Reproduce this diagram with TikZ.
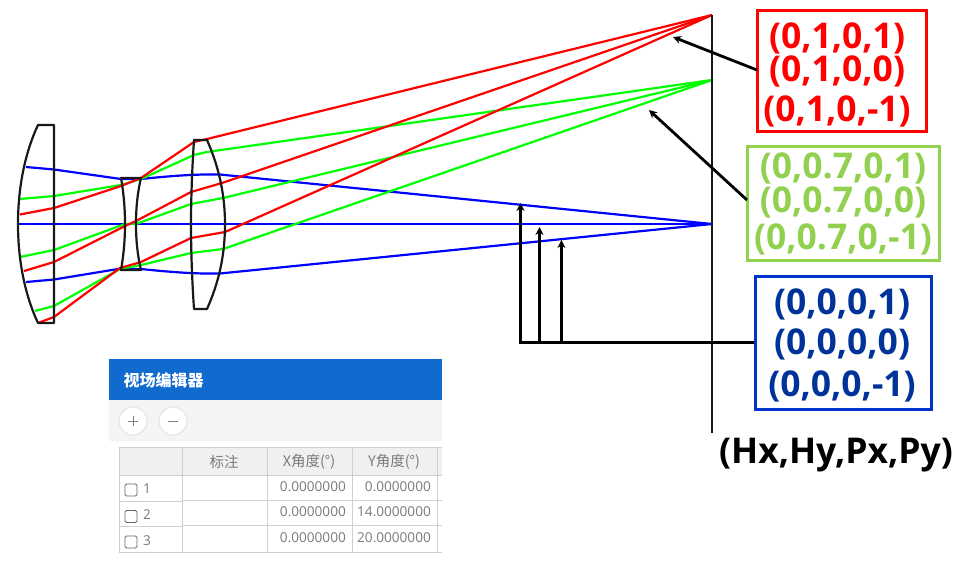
\documentclass[tikz,border=0pt]{standalone}
\usepackage{fontspec}
\setmainfont{Open Sans}
\newfontfamily\cjk{Noto Sans CJK SC}
\usetikzlibrary{arrows.meta}
\definecolor{rayr}{HTML}{FF0000}
\definecolor{rayg}{HTML}{00FF00}
\definecolor{rayb}{HTML}{0000FF}
\definecolor{boxg}{HTML}{92D050}
\definecolor{boxb}{HTML}{0033CC}
\definecolor{txtb}{HTML}{003399}
\definecolor{headblue}{HTML}{116BCE}
\definecolor{barg}{HTML}{F4F4F4}
\definecolor{cellg}{HTML}{F0F0F0}
\definecolor{gridg}{HTML}{CFCFCF}
\definecolor{txtg}{HTML}{7A7A7A}
\tikzset{
  ray/.style={line width=2.2pt,line join=round},
  lens/.style={draw=black!90,line width=2.2pt,line join=round},
  callout/.style={line width=2.8pt,draw=black,-{Stealth[length=8pt,width=8pt]}},
  labelbox/.style={draw,line width=3pt,fill=white,inner sep=0pt},
  lbl/.style={font=\fontsize{35.5}{36}\selectfont\bfseries,inner sep=0pt},
  cell/.style={font=\fontsize{13.6}{14}\selectfont,text=txtg,inner sep=0pt},
  cellcn/.style={font=\cjk\fontsize{14.5}{15}\selectfont,text=txtg,inner sep=0pt},
  grid/.style={draw=gridg,line width=0.9pt},
  roundbtn/.style={circle,draw=black!12,fill=white,line width=0.8pt,minimum size=28pt,inner sep=0pt,text=black!55},
  chk/.style={draw=black!60,rounded corners=1.5pt,line width=0.8pt,fill=white,minimum size=12pt,inner sep=0pt}
}
\begin{document}
\begin{tikzpicture}[x=1pt,y=-1pt]
\useasboundingbox (0,0) rectangle (960,560);
% focus points
\coordinate (fr) at (712,15);
\coordinate (fg) at (712,80);
\coordinate (fb) at (712,224);
% blue rays
\draw[ray,rayb] (26,167) -- (54,169.5) -- (121,179) -- (141,179) .. controls (170,176) and (195,174) .. (220,174.5) -- (fb);
\draw[ray,rayb,line width=2.8pt] (18,224) -- (fb);
\draw[ray,rayb] (26,282) -- (54,279.5) -- (121,268.5) -- (141,269) .. controls (170,272) and (195,274) .. (220,273.5) -- (fb);
% green rays
\draw[ray,rayg] (20,199) -- (54,196) -- (121,185) -- (141,179) -- (194,155) -- (207,152) -- (fg);
\draw[ray,rayg] (20,257) -- (54,250) -- (125,224) -- (136,224) -- (191,204) -- (223,198) -- (fg);
\draw[ray,rayg] (35,311) -- (54,306) -- (120,269) -- (141,265) -- (191,253) -- (223,249) -- (fg);
% red rays
\draw[ray,rayr] (20,214.5) -- (54,208) -- (121,186) -- (141,178) -- (194,142) -- (207,139) -- (fr);
\draw[ray,rayr] (24,271) -- (54,262) -- (125,226) -- (136,221) -- (191,192) -- (222,183) -- (fr);
\draw[ray,rayr] (38,323) -- (54,317) -- (120,268) -- (141,262) -- (191,238) -- (225,232) -- (fr);
% lenses
\draw[lens] (38,125) .. controls (24,155) and (18,190) .. (18,224) .. controls (18,258) and (24,293) .. (38,323) -- (54,323) -- (54,125) -- cycle;
\draw[lens] (121,178) .. controls (124,195) and (125,210) .. (125,224) .. controls (125,238) and (124,253) .. (121,270) -- (141,270) .. controls (137,253) and (136,238) .. (136,224) .. controls (136,210) and (137,195) .. (141,178) -- cycle;
\draw[lens] (194,140) .. controls (192,170) and (191,200) .. (191,224) .. controls (191,250) and (192,280) .. (194,309) -- (207,309) .. controls (219,282) and (225,255) .. (225,224) .. controls (225,195) and (219,167) .. (207,140) -- cycle;
% image plane
\coordinate (pt) at (712,15);
\coordinate (pb) at (712,433);
\draw[black!90,line width=2.2pt] (pt) -- (pb);
% label boxes
\node[labelbox,draw=rayr,minimum width=169pt,minimum height=121pt] (redbox) at (842,71) {};
\node[labelbox,draw=boxg,minimum width=192pt,minimum height=114pt] (greenbox) at (843.5,203.5) {};
\node[labelbox,draw=boxb,minimum width=176pt,minimum height=133pt] (bluebox) at (843.5,343) {};
\node[lbl,text=rayr] (r1) at (837,38) {(0,1,0,1)};
\node[lbl,text=rayr] (r2) at (837,71) {(0,1,0,0)};
\node[lbl,text=rayr] (r3) at (837,111) {(0,1,0,-1)};
\node[lbl,text=boxg] (g1) at (843,168) {(0,0.7,0,1)};
\node[lbl,text=boxg] (g2) at (843,202) {(0,0.7,0,0)};
\node[lbl,text=boxg] (g3) at (843,239) {(0,0.7,0,-1)};
\node[lbl,text=txtb] (b1) at (842,304) {(0,0,0,1)};
\node[lbl,text=txtb] (b2) at (842,344) {(0,0,0,0)};
\node[lbl,text=txtb] (b3) at (842,386) {(0,0,0,-1)};
\node[lbl,text=black] (hdr) at (836,455) {(Hx,Hy,Px,Py)};
% callouts
\coordinate (ra) at (673,37);
\coordinate (ga) at (649,110);
\coordinate (rs) at (757,70);
\coordinate (gs) at (747,200);
\draw[callout] (rs) -- (ra);
\draw[callout] (gs) -- (ga);
\coordinate (j1) at (520.5,342.5);
\coordinate (j2) at (539.5,342.5);
\coordinate (j3) at (561.4,342.5);
\coordinate (a1) at (520.5,203);
\coordinate (a2) at (539.5,227);
\coordinate (a3) at (561.4,240);
\draw[line width=2.4pt,line join=miter] (bluebox.west |- j1) -- (j1);
\draw[callout,shorten <=-1.1pt] (j1) -- (a1);
\draw[callout] (j2) -- (a2);
\draw[callout] (j3) -- (a3);
% editor panel
\fill[headblue] (109,359) rectangle (442,400);
\fill[barg] (109,400) rectangle (442,441);
\node[font=\cjk\fontsize{16}{17}\selectfont\bfseries,text=white,anchor=west,inner sep=0pt] (title) at (123.5,380) {视场编辑器};
\node[roundbtn] (plus) at (133,421) {};
\node[roundbtn] (minus) at (173,421) {};
\draw[black!50,line width=0.7pt] (128,421) -- (138,421) (133,416) -- (133,426);
\draw[black!50,line width=0.7pt] (168,421) -- (178,421);
% table
\fill[cellg] (119,447) rectangle (442,475);
\draw[grid] (119,447) -- (442,447);
\draw[grid] (119,475) -- (442,475);
\draw[grid] (182,500) -- (442,500);
\draw[grid] (182,525.5) -- (442,525.5);
\draw[grid] (119,501) -- (182,501);
\draw[grid] (119,526.5) -- (182,526.5);
\draw[grid] (119,552) -- (442,552);
\draw[grid] (119,447) -- (119,552);
\draw[grid] (182,447) -- (182,552);
\draw[grid] (267,447) -- (267,552);
\draw[grid] (352,447) -- (352,552);
\draw[grid] (437,447) -- (437,552);
\node[cellcn] (h1) at (224,462) {标注};
\node[cellcn] (h2) at (309,462) {X角度(°)};
\node[cellcn] (h3) at (394,462) {Y角度(°)};
\node[chk] (c1) at (131,490) {};
\node[chk] (c2) at (131,516.5) {};
\node[chk] (c3) at (131,542) {};
\node[cell,anchor=west] (n1) at (143,489) {1};
\node[cell,anchor=west] (n2) at (143,515) {2};
\node[cell,anchor=west] (n3) at (143,541) {3};
\node[cell,anchor=east] (x1) at (346,487) {0.0000000};
\node[cell,anchor=east] (x2) at (346,512) {0.0000000};
\node[cell,anchor=east] (x3) at (346,537.5) {0.0000000};
\node[cell,anchor=east] (y1) at (431,487) {0.0000000};
\node[cell,anchor=east] (y2) at (431,512) {14.0000000};
\node[cell,anchor=east] (y3) at (431,537.5) {20.0000000};
\end{tikzpicture}
\end{document}
